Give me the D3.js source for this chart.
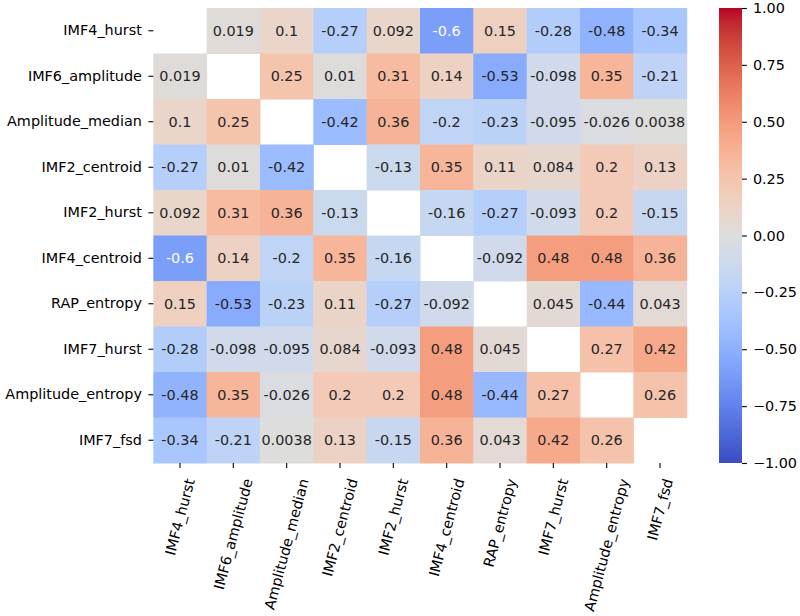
<!DOCTYPE html>
<html>
<head>
<meta charset="utf-8">
<script src="https://cdn.jsdelivr.net/npm/d3@7"></script>
<style>
  body { margin: 0; background: #fff; }
  text { font-family: "DejaVu Sans", sans-serif; }
</style>
</head>
<body>
<svg width="800" height="616"></svg>
<script>
const LABELS = [
    'IMF4_hurst', 'IMF6_amplitude', 'Amplitude_median', 'IMF2_centroid', 'IMF2_hurst',
    'IMF4_centroid', 'RAP_entropy', 'IMF7_hurst', 'Amplitude_entropy', 'IMF7_fsd'
];
// correlation matrix, diagonal masked (null)
const CORR = [
    [null, 0.019, 0.1, -0.27, 0.092, -0.6, 0.15, -0.28, -0.48, -0.34],
    [0.019, null, 0.25, 0.01, 0.31, 0.14, -0.53, -0.098, 0.35, -0.21],
    [0.1, 0.25, null, -0.42, 0.36, -0.2, -0.23, -0.095, -0.026, 0.0038],
    [-0.27, 0.01, -0.42, null, -0.13, 0.35, 0.11, 0.084, 0.2, 0.13],
    [0.092, 0.31, 0.36, -0.13, null, -0.16, -0.27, -0.093, 0.2, -0.15],
    [-0.6, 0.14, -0.2, 0.35, -0.16, null, -0.092, 0.48, 0.48, 0.36],
    [0.15, -0.53, -0.23, 0.11, -0.27, -0.092, null, 0.045, -0.44, 0.043],
    [-0.28, -0.098, -0.095, 0.084, -0.093, 0.48, 0.045, null, 0.27, 0.42],
    [-0.48, 0.35, -0.026, 0.2, 0.2, 0.48, -0.44, 0.27, null, 0.26],
    [-0.34, -0.21, 0.0038, 0.13, -0.15, 0.36, 0.043, 0.42, 0.26, null]
];
const CBAR_TICKS = [-1, -0.75, -0.5, -0.25, 0, 0.25, 0.5, 0.75, 1];

// coolwarm (Moreland) control colours, evenly spaced 0..1
const COOLWARM = [
    [59,76,192],[68,90,204],[77,104,215],[87,117,225],[98,130,234],[108,142,241],
    [119,154,247],[130,165,251],[141,176,254],[152,185,255],[163,194,255],[174,201,253],
    [184,208,249],[194,213,244],[204,217,238],[213,219,230],[221,221,221],[229,216,209],
    [236,211,197],[241,204,185],[245,196,173],[247,187,160],[247,177,148],[247,166,135],
    [244,154,123],[241,141,111],[236,127,99],[229,112,88],[222,96,77],[213,80,66],
    [203,62,56],[192,40,47],[180,4,38]
].map(c => `rgb(${c[0]},${c[1]},${c[2]})`);

const coolwarm = d3.scaleLinear()
    .domain(d3.range(COOLWARM.length).map(i => i / (COOLWARM.length - 1)))
    .range(COOLWARM)
    .interpolate(d3.interpolateRgb)
    .clamp(true);
const color = v => coolwarm((v + 1) / 2);

const mLeft = 153.3, mRight = 686.7, mTop = 8, mBottom = 463;
const svg = d3.select('svg');

const x = d3.scaleBand().domain(LABELS).range([mLeft, mRight]);
const y = d3.scaleBand().domain(LABELS).range([mTop, mBottom]);

const cells = [];
CORR.forEach((row, i) => row.forEach((v, j) => {
    if (v !== null) cells.push({ r: LABELS[i], c: LABELS[j], v });
}));

svg.append('g')
    .selectAll('rect')
    .data(cells)
    .enter()
    .append('rect')
    .attr('x', d => x(d.c))
    .attr('y', d => y(d.r))
    .attr('width', x.bandwidth() + 0.5)
    .attr('height', y.bandwidth() + 0.5)
    .attr('fill', d => color(d.v));

const lum = c => {
    const rgb = d3.rgb(c);
    const f = u => { u /= 255; return u <= 0.03928 ? u / 12.92 : Math.pow((u + 0.055) / 1.055, 2.4); };
    return 0.2126 * f(rgb.r) + 0.7152 * f(rgb.g) + 0.0722 * f(rgb.b);
};

svg.append('g')
    .selectAll('text')
    .data(cells)
    .enter()
    .append('text')
    .attr('x', d => x(d.c) + x.bandwidth() / 2)
    .attr('y', d => y(d.r) + y.bandwidth() / 2)
    .attr('text-anchor', 'middle')
    .attr('dominant-baseline', 'central')
    .style('font-size', '14.4px')
    .attr('fill', d => lum(color(d.v)) > 0.408 ? '#262626' : '#fff')
    .text(d => d3.format('.2~g')(d.v).replace('\u2212', '-'));

// y axis
const yAxis = svg.append('g')
    .attr('transform', `translate(${mLeft},0)`)
    .call(d3.axisLeft(y).tickSize(4.9).tickPadding(6.5));
yAxis.select('.domain').remove();
yAxis.selectAll('text').style('font-size', '14.4px').attr('fill', '#000').style('font-family', '"DejaVu Sans"');
yAxis.selectAll('line').attr('stroke', '#000').attr('stroke-width', 1.1);

// x axis
const xAxis = svg.append('g')
    .attr('transform', `translate(0,${mBottom})`)
    .call(d3.axisBottom(x).tickSize(4.9).tickFormat(''));
xAxis.select('.domain').remove();
xAxis.selectAll('line').attr('stroke', '#000').attr('stroke-width', 1.1);

const xl = svg.append('g')
    .selectAll('text')
    .data(LABELS)
    .enter()
    .append('text')
    .style('font-size', '14.4px')
    .attr('fill', '#000')
    .attr('text-anchor', 'end')
    .attr('dominant-baseline', 'central')
    .text(d => d);
xl.attr('transform', function (d) {
    const L = this.getComputedTextLength();
    const cx = x(d) + x.bandwidth() / 2 + 0.1295 * L;
    return `translate(${cx},${mBottom + 16}) rotate(-75)`;
});

// colorbar
const cbX = 719, cbW = 23;
const cbScale = d3.scaleLinear().domain([-1, 1]).range([mBottom, mTop]);
const grad = svg.append('defs').append('linearGradient')
    .attr('id', 'cw')
    .attr('x1', 0).attr('y1', 1).attr('x2', 0).attr('y2', 0);
grad.selectAll('stop')
    .data(COOLWARM)
    .enter()
    .append('stop')
    .attr('offset', (d, i) => i / (COOLWARM.length - 1))
    .attr('stop-color', d => d);

svg.append('rect')
    .attr('x', cbX)
    .attr('y', mTop)
    .attr('width', cbW)
    .attr('height', mBottom - mTop)
    .attr('fill', 'url(#cw)');

const cbAxis = svg.append('g')
    .attr('transform', `translate(${cbX + cbW},0)`)
    .call(d3.axisRight(cbScale).tickValues(CBAR_TICKS).tickSize(4.9).tickPadding(6)
        .tickFormat(d => d3.format('.2f')(d).replace('-', '\u2212')));
cbAxis.select('.domain').remove();
cbAxis.selectAll('text').style('font-size', '14.4px').attr('fill', '#000').style('font-family', '"DejaVu Sans"');
cbAxis.selectAll('line').attr('stroke', '#000').attr('stroke-width', 1.1);
</script>
</body>
</html>
